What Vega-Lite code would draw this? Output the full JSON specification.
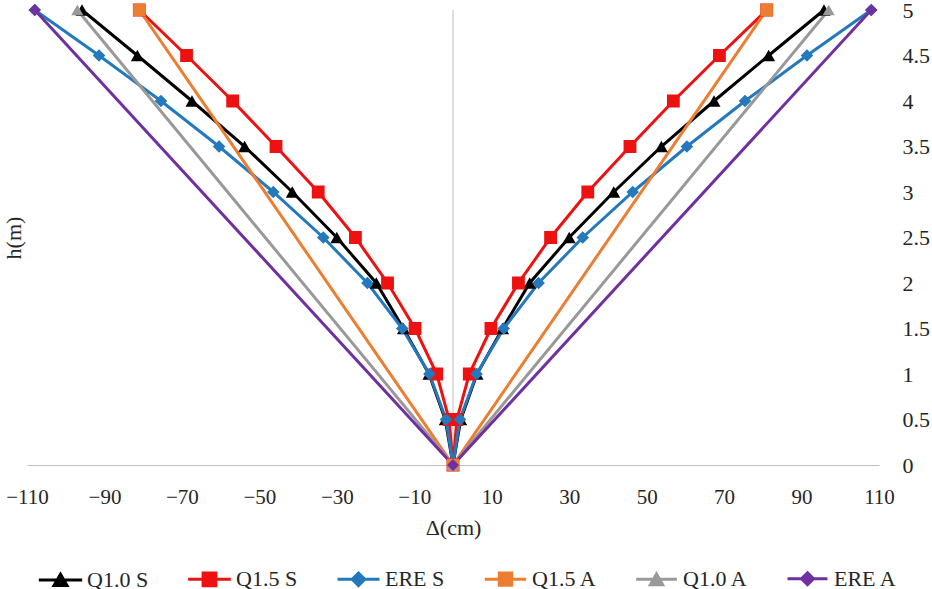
{
  "$schema": "https://vega.github.io/schema/vega-lite/v6.json",
  "width": 852,
  "height": 455,
  "autosize": {"type": "none"},
  "padding": {"left": 27, "top": 10, "right": 53, "bottom": 124},
  "config": {
    "view": {"stroke": null},
    "font": "Liberation Serif, Times New Roman, serif",
    "axis": {"grid": false, "labelColor": "#262626", "titleColor": "#262626"}
  },
  "data": {
    "values": [
      {"s": "Q1.0 S", "o": 0, "x": -95.8, "h": 5},
      {"s": "Q1.0 S", "o": 1, "x": -81.5, "h": 4.5},
      {"s": "Q1.0 S", "o": 2, "x": -67.4, "h": 4},
      {"s": "Q1.0 S", "o": 3, "x": -53.8, "h": 3.5},
      {"s": "Q1.0 S", "o": 4, "x": -41.5, "h": 3},
      {"s": "Q1.0 S", "o": 5, "x": -30, "h": 2.5},
      {"s": "Q1.0 S", "o": 6, "x": -19.8, "h": 2},
      {"s": "Q1.0 S", "o": 7, "x": -12.8, "h": 1.5},
      {"s": "Q1.0 S", "o": 8, "x": -6.2, "h": 1},
      {"s": "Q1.0 S", "o": 9, "x": -2, "h": 0.5},
      {"s": "Q1.0 S", "o": 10, "x": 0, "h": 0},
      {"s": "Q1.0 S", "o": 11, "x": 2, "h": 0.5},
      {"s": "Q1.0 S", "o": 12, "x": 6.2, "h": 1},
      {"s": "Q1.0 S", "o": 13, "x": 12.8, "h": 1.5},
      {"s": "Q1.0 S", "o": 14, "x": 19.8, "h": 2},
      {"s": "Q1.0 S", "o": 15, "x": 30, "h": 2.5},
      {"s": "Q1.0 S", "o": 16, "x": 41.5, "h": 3},
      {"s": "Q1.0 S", "o": 17, "x": 53.8, "h": 3.5},
      {"s": "Q1.0 S", "o": 18, "x": 67.4, "h": 4},
      {"s": "Q1.0 S", "o": 19, "x": 81.5, "h": 4.5},
      {"s": "Q1.0 S", "o": 20, "x": 95.8, "h": 5},
      {"s": "Q1.5 S", "o": 0, "x": -81, "h": 5},
      {"s": "Q1.5 S", "o": 1, "x": -68.8, "h": 4.5},
      {"s": "Q1.5 S", "o": 2, "x": -56.9, "h": 4},
      {"s": "Q1.5 S", "o": 3, "x": -45.7, "h": 3.5},
      {"s": "Q1.5 S", "o": 4, "x": -34.8, "h": 3},
      {"s": "Q1.5 S", "o": 5, "x": -25.2, "h": 2.5},
      {"s": "Q1.5 S", "o": 6, "x": -16.9, "h": 2},
      {"s": "Q1.5 S", "o": 7, "x": -9.8, "h": 1.5},
      {"s": "Q1.5 S", "o": 8, "x": -4.2, "h": 1},
      {"s": "Q1.5 S", "o": 9, "x": -1, "h": 0.5},
      {"s": "Q1.5 S", "o": 10, "x": 0, "h": 0},
      {"s": "Q1.5 S", "o": 11, "x": 1, "h": 0.5},
      {"s": "Q1.5 S", "o": 12, "x": 4.2, "h": 1},
      {"s": "Q1.5 S", "o": 13, "x": 9.8, "h": 1.5},
      {"s": "Q1.5 S", "o": 14, "x": 16.9, "h": 2},
      {"s": "Q1.5 S", "o": 15, "x": 25.2, "h": 2.5},
      {"s": "Q1.5 S", "o": 16, "x": 34.8, "h": 3},
      {"s": "Q1.5 S", "o": 17, "x": 45.7, "h": 3.5},
      {"s": "Q1.5 S", "o": 18, "x": 56.9, "h": 4},
      {"s": "Q1.5 S", "o": 19, "x": 68.8, "h": 4.5},
      {"s": "Q1.5 S", "o": 20, "x": 81, "h": 5},
      {"s": "ERE S", "o": 0, "x": -108, "h": 5},
      {"s": "ERE S", "o": 1, "x": -91.4, "h": 4.5},
      {"s": "ERE S", "o": 2, "x": -75.4, "h": 4},
      {"s": "ERE S", "o": 3, "x": -60.4, "h": 3.5},
      {"s": "ERE S", "o": 4, "x": -46.4, "h": 3},
      {"s": "ERE S", "o": 5, "x": -33.5, "h": 2.5},
      {"s": "ERE S", "o": 6, "x": -22.1, "h": 2},
      {"s": "ERE S", "o": 7, "x": -13.1, "h": 1.5},
      {"s": "ERE S", "o": 8, "x": -6.1, "h": 1},
      {"s": "ERE S", "o": 9, "x": -1.8, "h": 0.5},
      {"s": "ERE S", "o": 10, "x": 0, "h": 0},
      {"s": "ERE S", "o": 11, "x": 1.8, "h": 0.5},
      {"s": "ERE S", "o": 12, "x": 6.1, "h": 1},
      {"s": "ERE S", "o": 13, "x": 13.1, "h": 1.5},
      {"s": "ERE S", "o": 14, "x": 22.1, "h": 2},
      {"s": "ERE S", "o": 15, "x": 33.5, "h": 2.5},
      {"s": "ERE S", "o": 16, "x": 46.4, "h": 3},
      {"s": "ERE S", "o": 17, "x": 60.4, "h": 3.5},
      {"s": "ERE S", "o": 18, "x": 75.4, "h": 4},
      {"s": "ERE S", "o": 19, "x": 91.4, "h": 4.5},
      {"s": "ERE S", "o": 20, "x": 108, "h": 5},
      {"s": "Q1.5 A", "o": 0, "x": -81, "h": 5},
      {"s": "Q1.5 A", "o": 1, "x": 0, "h": 0},
      {"s": "Q1.5 A", "o": 2, "x": 81, "h": 5},
      {"s": "Q1.0 A", "o": 0, "x": -97, "h": 5},
      {"s": "Q1.0 A", "o": 1, "x": 0, "h": 0},
      {"s": "Q1.0 A", "o": 2, "x": 97, "h": 5},
      {"s": "ERE A", "o": 0, "x": -108, "h": 5},
      {"s": "ERE A", "o": 1, "x": 0, "h": 0},
      {"s": "ERE A", "o": 2, "x": 108, "h": 5}
    ]
  },
  "encoding": {
    "x": {
      "field": "x",
      "type": "quantitative",
      "scale": {"domain": [-110, 110], "nice": false, "zero": false},
      "axis": {
        "orient": "bottom",
        "values": [-110, -90, -70, -50, -30, -10, 10, 30, 50, 70, 90, 110],
        "labelOverlap": false,
        "labelFlush": false,
        "domainColor": "#bfbfbf",
        "domainWidth": 1,
        "ticks": false,
        "tickSize": 0,
        "labelPadding": 21,
        "labelFontSize": 21,
        "title": "Δ(cm)",
        "titleFontSize": 22,
        "titleFontWeight": "normal",
        "titlePadding": 10
      }
    },
    "color": {
      "field": "s",
      "type": "nominal",
      "scale": {
        "domain": ["Q1.0 S", "Q1.5 S", "ERE S", "Q1.5 A", "Q1.0 A", "ERE A"],
        "range": ["#000000", "#ee1111", "#2479bd", "#ed7d31", "#999999", "#7030a0"]
      },
      "legend": {
        "orient": "none",
        "legendX": 10,
        "legendY": 546,
        "direction": "horizontal",
        "columns": 6,
        "title": null,
        "labelFontSize": 22,
        "labelColor": "#262626",
        "labelOffset": 3,
        "labelLimit": 200,
        "columnPadding": 33,
        "symbolSize": 1849,
        "symbolStrokeWidth": 3
      }
    }
  },
  "layer": [
    {
      "data": {"values": [{"x": 0}]},
      "mark": {"type": "rule", "color": "#bfbfbf", "strokeWidth": 1},
      "encoding": {"color": {"value": "#bfbfbf"}}
    },
    {
      "mark": {"type": "line", "strokeWidth": 3},
      "encoding": {
        "y": {
          "field": "h",
          "type": "quantitative",
          "scale": {"domain": [0, 5], "nice": false},
          "axis": {
            "orient": "left",
            "labels": false,
            "ticks": false,
            "domain": false,
            "title": "h(m)",
            "titleFontSize": 22,
            "titleFontWeight": "normal",
            "titlePadding": 2
          }
        },
        "order": {"field": "o", "type": "quantitative"}
      }
    },
    {
      "mark": {"type": "point", "filled": true, "opacity": 1, "strokeWidth": 0},
      "encoding": {
        "y": {
          "field": "h",
          "type": "quantitative",
          "scale": {"domain": [0, 5], "nice": false},
          "axis": {
            "orient": "right",
            "values": [0, 0.5, 1, 1.5, 2, 2.5, 3, 3.5, 4, 4.5, 5],
            "format": "~g",
            "domain": false,
            "ticks": false,
            "tickSize": 0,
            "labelPadding": 23,
            "labelFontSize": 22,
            "title": null
          }
        },
        "shape": {
          "field": "s",
          "type": "nominal",
          "scale": {
            "domain": ["Q1.0 S", "Q1.5 S", "ERE S", "Q1.5 A", "Q1.0 A", "ERE A"],
            "range": [
              "M-1,0H1M-0.3,0.26L0,-0.26L0.3,0.26Z",
              "M-1,0H1M-0.3,-0.3H0.3V0.3H-0.3Z",
              "M-1,0H1M0,-0.3L0.3,0L0,0.3L-0.3,0Z",
              "M-1,0H1M-0.3,-0.3H0.3V0.3H-0.3Z",
              "M-1,0H1M-0.3,0.26L0,-0.26L0.3,0.26Z",
              "M-1,0H1M0,-0.3L0.3,0L0,0.3L-0.3,0Z"
            ]
          }
        },
        "size": {
          "field": "s",
          "type": "nominal",
          "scale": {
            "domain": ["Q1.0 S", "Q1.5 S", "ERE S", "Q1.5 A", "Q1.0 A", "ERE A"],
            "range": [1880, 1600, 900, 2500, 2500, 1344]
          },
          "legend": null
        }
      }
    }
  ],
  "resolve": {"axis": {"y": "independent"}}
}
